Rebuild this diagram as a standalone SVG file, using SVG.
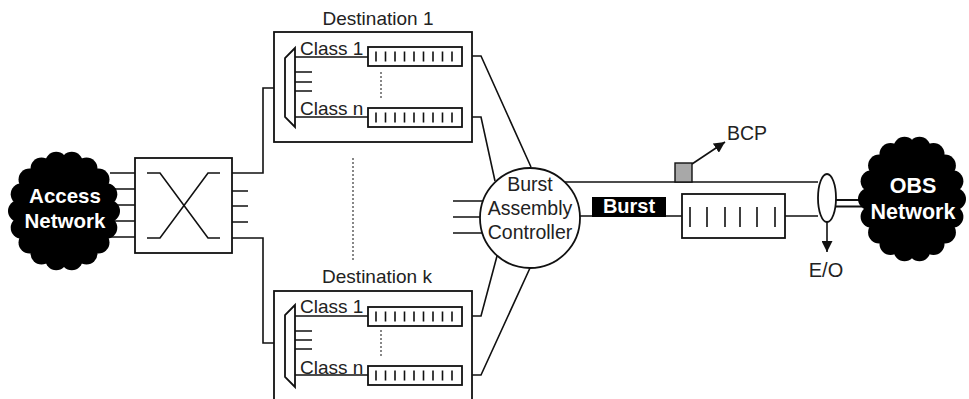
<svg xmlns="http://www.w3.org/2000/svg" width="969" height="399" viewBox="0 0 969 399">
<style>
.ln{fill:none;stroke:#111;stroke-width:1.6}
.bx{fill:#fff;stroke:#111;stroke-width:1.8}
.tk{stroke:#111;stroke-width:1.6}
.lb{font-family:"Liberation Sans",Arial,sans-serif;fill:#222;font-size:19px}
.wb{font-family:"Liberation Sans",Arial,sans-serif;fill:#fff;font-weight:bold;font-size:20.5px;text-anchor:middle}
.cl{fill:#000}
</style>
<defs>
<marker id="ah" viewBox="0 0 10 10" refX="10" refY="5" markerWidth="11" markerHeight="11" markerUnits="userSpaceOnUse" orient="auto"><path d="M0,0 L10,5 L0,10 Z" fill="#111"/></marker>
<g id="q9">
<rect x="0" y="0" width="94" height="19" class="bx"/>
<path class="tk" d="M8,4.5V14.5M17.5,4.5V14.5M27,4.5V14.5M36.5,4.5V14.5M46,4.5V14.5M55.5,4.5V14.5M65,4.5V14.5M74.5,4.5V14.5M84,4.5V14.5"/>
</g>
</defs>
<rect width="969" height="399" fill="#fff"/>

<g id="connectors">
<path class="ln" d="M110,173H135M110,189H135M110,205H135M110,221H135M110,237H135"/>
<path class="ln" d="M232,173H263V88H285M232,238H263V343H285"/>
<path class="ln" d="M232,191H248M232,206H248M232,222H248"/>
<path class="ln" d="M462,56H481L531,167M462,117H481L495,181M462,316H481L497,256M462,375H481L530,268"/>
<path class="ln" d="M453,201H483M453,217H480M453,233H482"/>
<path class="ln" d="M565,182H818"/>
<path class="ln" d="M580,216H682M785,216H818"/>
<path class="ln" d="M835,200H862M835,206.5H862" style="stroke-width:2"/>
<path class="ln" d="M692,164L725,142" marker-end="url(#ah)"/>
<path class="ln" d="M827,222V252" marker-end="url(#ah)"/>
<path d="M353,158V262" fill="none" stroke="#555" stroke-width="1.4" stroke-dasharray="2,2"/>
</g>

<g id="access-network">
<g class="cl">
<ellipse cx="64" cy="211" rx="45" ry="49"/>
<circle cx="109" cy="211" r="11"/><circle cx="106.3" cy="194.2" r="11"/><circle cx="98.5" cy="179.5" r="11"/>
<circle cx="86.5" cy="168.6" r="11"/><circle cx="71.8" cy="162.7" r="11"/><circle cx="56.2" cy="162.7" r="11"/>
<circle cx="41.5" cy="168.6" r="11"/><circle cx="29.5" cy="179.5" r="11"/><circle cx="21.7" cy="194.2" r="11"/>
<circle cx="19" cy="211" r="11"/><circle cx="21.7" cy="227.8" r="11"/><circle cx="29.5" cy="242.5" r="11"/>
<circle cx="41.5" cy="253.4" r="11"/><circle cx="56.2" cy="259.3" r="11"/><circle cx="71.8" cy="259.3" r="11"/>
<circle cx="86.5" cy="253.4" r="11"/><circle cx="98.5" cy="242.5" r="11"/><circle cx="106.3" cy="227.8" r="11"/>
</g>
<text class="wb" x="65" y="203">Access</text>
<text class="wb" x="65" y="228">Network</text>
</g>

<g id="switch">
<rect x="135" y="158" width="97" height="95" class="bx"/>
<path class="ln" d="M147,173H160L208,238H220M220,173H208L160,238H147"/>
</g>

<g id="destination-1">
<text class="lb" x="378" y="25" text-anchor="middle">Destination 1</text>
<rect x="274" y="32" width="198" height="110" class="bx"/>
<path class="bx" d="M295,48L285,58V117L295,127Z"/>
<path class="ln" d="M295,57H368M295,117H368M295,72H312M295,82H312M295,91H312"/>
<path d="M381,72V100" fill="none" stroke="#555" stroke-width="1.4" stroke-dasharray="2,2"/>
<use href="#q9" x="368" y="47"/>
<use href="#q9" x="368" y="108"/>
<text class="lb" x="300" y="55">Class 1</text>
<text class="lb" x="300" y="115">Class n</text>
</g>

<g id="destination-k">
<text class="lb" x="377" y="283" text-anchor="middle">Destination k</text>
<rect x="274" y="291" width="198" height="115" class="bx"/>
<path class="bx" d="M295,305L285,315V377L295,387Z"/>
<path class="ln" d="M295,316H368M295,375H368M295,331H312M295,340H312M295,349H312"/>
<path d="M381,330V358" fill="none" stroke="#555" stroke-width="1.4" stroke-dasharray="2,2"/>
<use href="#q9" x="368" y="307"/>
<use href="#q9" x="368" y="366"/>
<text class="lb" x="300" y="313">Class 1</text>
<text class="lb" x="300" y="374">Class n</text>
</g>

<g id="controller">
<circle cx="530" cy="218" r="50" class="bx"/>
<text class="lb" x="530" y="191" text-anchor="middle" style="font-size:19.5px">Burst</text>
<text class="lb" x="530" y="215" text-anchor="middle" style="font-size:19.5px">Assembly</text>
<text class="lb" x="530" y="239" text-anchor="middle" style="font-size:19.5px">Controller</text>
</g>

<g id="burst">
<rect x="592" y="197" width="74" height="20" fill="#000"/>
<text class="wb" x="629" y="213" style="font-size:20px">Burst</text>
</g>

<g id="bcp">
<rect x="675" y="163" width="17" height="19" fill="#a8a8a8" stroke="#111" stroke-width="1.4"/>
<text class="lb" x="727" y="140" style="font-size:19.5px">BCP</text>
</g>

<g id="output-queue">
<rect x="682" y="194" width="103" height="44" class="bx"/>
<path class="tk" d="M690,207V227M707,207V227M725,207V227M740,207V227M757,207V227M775,207V227"/>
</g>

<g id="eo">
<ellipse cx="827" cy="198" rx="9" ry="24" class="bx"/>
<text class="lb" x="826" y="277" text-anchor="middle" style="font-size:20px">E/O</text>
</g>

<g id="obs-network">
<g class="cl">
<ellipse cx="912" cy="199" rx="43" ry="52"/>
<circle cx="955" cy="199" r="11"/><circle cx="952.4" cy="181.2" r="11"/><circle cx="944.9" cy="165.6" r="11"/>
<circle cx="933.5" cy="154" r="11"/><circle cx="919.5" cy="147.8" r="11"/><circle cx="904.5" cy="147.8" r="11"/>
<circle cx="890.5" cy="154" r="11"/><circle cx="879.1" cy="165.6" r="11"/><circle cx="871.6" cy="181.2" r="11"/>
<circle cx="869" cy="199" r="11"/><circle cx="871.6" cy="216.8" r="11"/><circle cx="879.1" cy="232.4" r="11"/>
<circle cx="890.5" cy="244" r="11"/><circle cx="904.5" cy="250.2" r="11"/><circle cx="919.5" cy="250.2" r="11"/>
<circle cx="933.5" cy="244" r="11"/><circle cx="944.9" cy="232.4" r="11"/><circle cx="952.4" cy="216.8" r="11"/>
</g>
<text class="wb" x="913" y="193" style="font-size:21.5px">OBS</text>
<text class="wb" x="913" y="219" style="font-size:21.5px">Network</text>
</g>
</svg>
